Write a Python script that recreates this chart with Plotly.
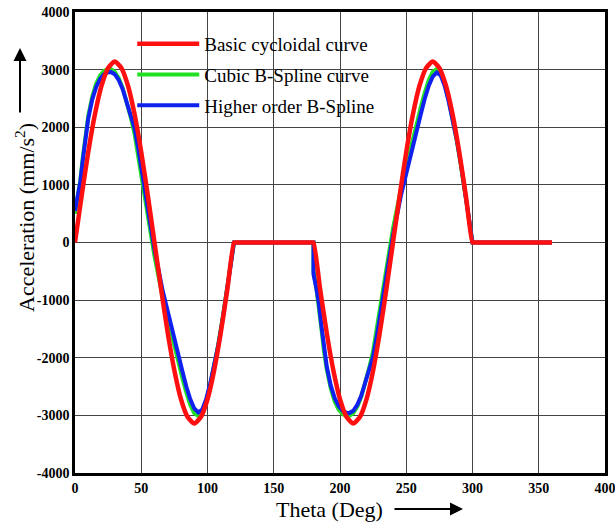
import plotly.graph_objects as go

# ---------------- data ----------------
# Basic cycloidal curve
theta_red_rise = [0, 5, 10, 15, 20, 25, 30, 35, 40, 45, 50, 55, 60, 65, 70, 75, 80, 85, 90,
                  95, 100, 105, 110, 115, 120]
red_rise = [0, 810, 1570, 2220, 2720, 3030, 3140, 3030, 2720, 2220, 1570, 810, 0, -810, -1570,
            -2220, -2720, -3030, -3140, -3030, -2720, -2220, -1570, -810, 0]
theta_red_return = [180, 185, 190, 195, 200, 205, 210, 215, 220, 225, 230, 235, 240, 245, 250,
                    255, 260, 265, 270, 275, 280, 285, 290, 295, 300]
red_return = [0, -810, -1570, -2220, -2720, -3030, -3140, -3030, -2720, -2220, -1570, -810, 0,
              810, 1570, 2220, 2720, 3030, 3140, 3030, 2720, 2220, 1570, 810, 0]
# dwell (zero acceleration) stretches
theta_dwell_1 = [121, 179]
theta_dwell_2 = [301, 360]
dwell_zero = [0, 0]

# B-spline curves, rise segment
theta_bs_rise = [0, 2, 4, 6, 8, 10, 13, 16, 19, 22, 25, 27, 30, 33, 36, 39, 42, 45, 48, 51, 54,
                 57, 60, 63, 66, 69, 72, 75, 78, 81, 84, 87, 90, 93, 96, 99, 102, 105, 108, 111,
                 114, 117, 120]
green_rise = [500, 760, 1080, 1500, 1900, 2200, 2530, 2760, 2900, 2980, 3010, 3010, 2960, 2850,
              2680, 2450, 2180, 1880, 1480, 1020, 600, 180, -240, -600, -930, -1220, -1520,
              -1800, -2080, -2350, -2600, -2820, -2960, -3010, -2950, -2760, -2480, -2150,
              -1780, -1370, -920, -480, 0]
blue_rise = [550, 780, 1050, 1450, 1850, 2150, 2480, 2700, 2840, 2920, 2955, 2960, 2920, 2820,
             2660, 2450, 2220, 1980, 1600, 1140, 720, 300, -120, -480, -820, -1100, -1400,
             -1680, -1950, -2230, -2500, -2720, -2880, -2950, -2900, -2720, -2450, -2150,
             -1800, -1400, -950, -500, 0]

# B-spline curves, return segment
theta_bs_return = [180, 182, 184, 186, 188, 190, 193, 196, 199, 202, 205, 207, 210, 213, 216,
                   219, 222, 225, 228, 231, 234, 237, 240, 243, 246, 249, 252, 255, 258, 261,
                   264, 267, 270, 273, 276, 279, 282, 285, 288, 291, 294, 297, 300]
green_return = [-500, -760, -1080, -1500, -1900, -2200, -2530, -2760, -2900, -2980, -3010, -3010,
                -2960, -2850, -2680, -2450, -2180, -1880, -1480, -1020, -600, -180, 240, 600,
                930, 1220, 1520, 1800, 2080, 2350, 2600, 2820, 2960, 3010, 2950, 2760, 2480,
                2150, 1780, 1370, 920, 480, 0]
blue_return = [-550, -780, -1050, -1450, -1850, -2150, -2480, -2700, -2840, -2920, -2955, -2960,
               -2920, -2820, -2660, -2450, -2220, -1980, -1600, -1140, -720, -300, 120, 480,
               820, 1100, 1400, 1680, 1950, 2230, 2500, 2720, 2880, 2950, 2900, 2720, 2450,
               2150, 1800, 1400, 950, 500, 0]
theta_bs_dwell_1 = [120, 180]
theta_bs_dwell_2 = [360]

names = ["Basic cycloidal curve", "Cubic B-Spline curve", "Higher order B-Spline"]
x_ticks = [0, 50, 100, 150, 200, 250, 300, 350, 400]
y_ticks = [-4000, -3000, -2000, -1000, 0, 1000, 2000, 3000, 4000]
y_tick_labels = ["-4000", "-3000", "-2000", "-1000", "0", "1000", "2000", "3000", "4000"]

# ---------------- figure ----------------
red_x = theta_red_rise + theta_dwell_1 + theta_red_return + theta_dwell_2
red_y = red_rise + dwell_zero + red_return + dwell_zero
bs_x = theta_bs_rise + theta_bs_dwell_1 + theta_bs_return + theta_bs_dwell_2
green_y = green_rise + dwell_zero + green_return + [0]
blue_y = blue_rise + dwell_zero + blue_return + [0]

fig = go.Figure()
fig.add_trace(go.Scatter(x=bs_x, y=green_y, mode="lines", name=names[1], legendgroup="b",
                         legendrank=2, line=dict(color="#22e022", width=4)))
fig.add_trace(go.Scatter(x=bs_x, y=blue_y, mode="lines", name=names[2], legendgroup="c",
                         legendrank=3, line=dict(color="#1020ee", width=4)))
fig.add_trace(go.Scatter(x=red_x, y=red_y, mode="lines", name=names[0], legendgroup="a",
                         legendrank=1,
                         line=dict(color="#ff1010", width=4.5, shape="spline", smoothing=0.6)))

serif = "Liberation Serif, Times New Roman, serif"
axis_common = dict(showgrid=True, gridcolor="#444444", gridwidth=1, zeroline=False,
                   showline=True, linecolor="black", linewidth=2.5, mirror=True,
                   automargin=False, ticks="", ticklabeloverflow="allow",
                   tickfont=dict(family=serif, size=14, color="black", weight="bold"))

fig.update_layout(
    width=615, height=525,
    margin=dict(l=75, r=10, t=12, b=52),
    paper_bgcolor="white", plot_bgcolor="white",
    showlegend=True,
    legend=dict(x=0.108, y=0.972, xanchor="left", yanchor="top",
                bgcolor="rgba(0,0,0,0)", borderwidth=0, tracegroupgap=3,
                font=dict(family=serif, size=19, color="black"), itemwidth=62),
    xaxis=dict(range=[0, 400], tickvals=x_ticks, **axis_common),
    yaxis=dict(range=[-4000, 4000], tickvals=y_ticks, ticktext=y_tick_labels, **axis_common),
)

# axis titles with arrows
fig.add_annotation(xref="paper", yref="paper", x=(329 - 75) / 530, y=(473 - 509) / 461,
                   xanchor="center", yanchor="middle",
                   text="Theta (Deg)", showarrow=False,
                   font=dict(family=serif, size=22, color="black"))
fig.add_annotation(xref="paper", yref="paper", x=(463 - 75) / 530, y=(473 - 509) / 461,
                   ax=-70, ay=0, text="", showarrow=True, arrowhead=2, arrowsize=1.3,
                   arrowwidth=2, arrowcolor="black")
fig.add_annotation(xref="paper", yref="paper", x=(25 - 75) / 530, y=(473 - 218) / 461,
                   xanchor="center", yanchor="middle",
                   text="Acceleration (mm/s<sup>2</sup>)", textangle=-90, showarrow=False,
                   font=dict(family=serif, size=22, color="black"))
fig.add_annotation(xref="paper", yref="paper", x=(20 - 75) / 530, y=(473 - 48) / 461,
                   ax=0, ay=66, text="", showarrow=True, arrowhead=2, arrowsize=1.3,
                   arrowwidth=2, arrowcolor="black")

fig.write_html("out.html", config={"displayModeBar": False},
               post_script="document.body.style.margin='0';document.body.style.overflow='hidden';")
